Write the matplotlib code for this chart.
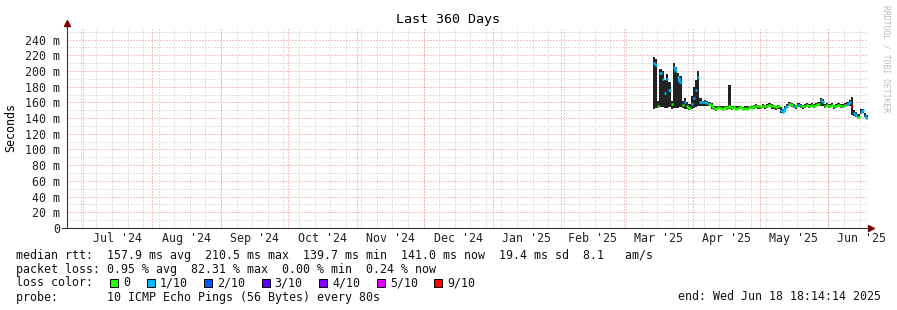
import matplotlib
matplotlib.use("Agg")
import matplotlib.pyplot as plt
import matplotlib.dates as mdates
from matplotlib.patches import Rectangle
import pandas as pd

# --- data (ms), one value per day starting 2025-03-14 ---
med = [210, 208, 156, 198, 190, 172, 190, 176, 158, 205, 200, 192, 186, 157, 160, 155, 153, 158, 166, 176,
       192, 160, 160, 161, 159, 158, 155, 153, 152, 154, 153, 152, 154, 153, 155, 153, 154, 152, 153, 154,
       152, 153, 152, 154, 153, 155, 156, 155, 154, 156, 155, 156, 157, 156, 155, 154, 155, 150, 148, 153,
       156, 158, 157, 156, 155, 157, 156, 155, 156, 157, 156, 157, 156, 157, 158, 163, 160, 156, 157, 156,
       157, 155, 156, 157, 156, 156, 157, 158, 161, 155, 146, 144, 142, 148, 150, 143, 140]
lo = [152, 153, 153, 154, 154, 153, 153, 154, 152, 153, 153, 153, 154, 153, 152, 151, 150, 152, 153, 154,
      155, 155, 156, 156, 155, 155, 152, 150, 149, 151, 151, 150, 151, 150, 151, 150, 151, 150, 151, 151,
      150, 150, 150, 151, 151, 152, 153, 152, 151, 153, 152, 153, 154, 152, 151, 150, 151, 147, 146, 150,
      153, 155, 154, 153, 152, 154, 153, 152, 153, 154, 153, 154, 153, 154, 155, 156, 155, 153, 154, 153,
      154, 152, 153, 154, 153, 153, 154, 155, 156, 144, 143, 141, 140, 145, 146, 141, 139]
hi = [218, 215, 162, 203, 200, 188, 196, 186, 162, 210, 205, 198, 193, 162, 166, 160, 158, 168, 180, 188,
      200, 166, 162, 163, 162, 161, 159, 156, 156, 156, 155, 155, 156, 155, 182, 156, 156, 155, 156, 156,
      154, 155, 155, 156, 155, 157, 158, 157, 156, 158, 157, 158, 159, 158, 157, 156, 157, 154, 152, 156,
      158, 160, 159, 158, 157, 159, 158, 157, 158, 159, 158, 159, 158, 159, 160, 166, 164, 158, 159, 158,
      159, 157, 158, 159, 158, 158, 159, 160, 163, 167, 150, 148, 145, 151, 152, 147, 144]
loss = [1, 1, 0, 1, 1, 1, 1, 1, 0, 1, 1, 1, 1, 0, 1, 0, 0, 1, 1, 1,
        1, 1, 1, 1, 1, 0, 0, 0, 0, 0, 0, 0, 0, 0, 0, 0, 0, 0, 0, 0,
        0, 0, 0, 0, 0, 0, 0, 0, 0, 0, 0, 0, 0, 0, 0, 0, 0, 1, 1, 1,
        1, 0, 0, 1, 0, 1, 0, 0, 0, 0, 0, 0, 0, 0, 0, 1, 1, 0, 0, 0,
        0, 0, 0, 0, 0, 0, 0, 1, 1, 9, 1, 1, 0, 1, 1, 1, 1]

loss_labels = ["0", "1/10", "2/10", "3/10", "4/10", "5/10", "9/10"]
loss_colors = ["#26ff00", "#00b8ff", "#0059ff", "#5e00ff", "#7e00ff", "#dd00ff", "#ff0000"]
loss_map = {0: "#26ff00", 1: "#00b8ff", 2: "#0059ff", 3: "#5e00ff", 4: "#7e00ff", 5: "#dd00ff", 9: "#ff0000"}

start = pd.Timestamp("2024-06-23 18:14:14")
end = pd.Timestamp("2025-06-18 18:14:14")
days = pd.date_range("2025-03-14", periods=len(med), freq="D")

W, H = 897, 310
fig = plt.figure(figsize=(W / 100, H / 100), dpi=100)
fig.patch.set_facecolor("white")
ax = fig.add_axes([67 / W, (H - 228) / H, (868 - 67) / W, (228 - 27) / H])

mono = "DejaVu Sans Mono"
fs = 8.4
dots = (0, (1, 2))

# grid
ax.set_ylim(0, 256)
ax.set_xlim(start, end)
ax.set_yticks(range(0, 241, 20))
ax.set_yticks(range(0, 256, 10), minor=True)
ax.set_yticklabels(["0"] + ["%d m" % v for v in range(20, 241, 20)], fontfamily=mono, fontsize=fs, color="#222")
ax.grid(which="minor", axis="y", color="#c4c4c4", lw=0.72, ls=dots)
ax.grid(which="major", axis="y", color="#f08a8a", lw=0.72, ls=dots)

months = pd.date_range("2024-07-01", "2025-07-01", freq="MS")
mids = [months[k] + (months[k + 1] - months[k]) / 2 for k in range(len(months) - 1)]
ax.set_xticks(mids)
ax.set_xticklabels([m.strftime("%b '%y") for m in mids], fontfamily=mono, fontsize=fs, color="#222")
ax.xaxis.set_minor_locator(mdates.WeekdayLocator(byweekday=mdates.SU))
ax.grid(which="minor", axis="x", color="#c4c4c4", lw=0.72, ls=dots)
for m in months[:-1]:
    ax.axvline(m, color="#f08a8a", lw=0.72, ls=dots, zorder=1)
ax.tick_params(which="both", length=0)
ax.tick_params(axis="y", pad=5)
ax.tick_params(axis="x", pad=3)
ax.set_axisbelow(True)

for s in ["top", "right"]:
    ax.spines[s].set_visible(False)
for s in ["left", "bottom"]:
    ax.spines[s].set_color("#333333")
    ax.spines[s].set_linewidth(0.8)
ax.plot([-0.006, 0], [0, 0], transform=ax.transAxes, color="#333333", lw=0.8, clip_on=False)
ax.plot([0], [1.02], marker="^", ms=4, color="#800000", transform=ax.transAxes, clip_on=False)
ax.plot([1.004], [0], marker=">", ms=4, color="#800000", transform=ax.transAxes, clip_on=False)

# smoke
ax.bar(days, [h - l for h, l in zip(hi, lo)], bottom=lo, width=1.0, align="edge",
       color="#222222", linewidth=0, zorder=3)

# median line coloured by loss (short steps joined, big jumps left to the smoke)
for i in range(len(med)):
    c = loss_map[loss[i]]
    ax.hlines(med[i], days[i], days[i] + pd.Timedelta(days=1), colors=c, lw=1.8, zorder=4)
    if i > 0 and loss[i] == loss[i - 1] and abs(med[i] - med[i - 1]) <= 6:
        ax.vlines(days[i], med[i - 1], med[i], colors=c, lw=1.8, zorder=4)

ax.set_ylabel("Seconds", fontfamily=mono, fontsize=fs)
ax.yaxis.set_label_coords(-50 / (868 - 67), 0.5)

fig.text(448 / W, 1 - 19 / H, "Last 360 Days", ha="center", va="center", fontfamily=mono, fontsize=9.6)
fig.text(886 / W, 1 - 5 / H, "RRDTOOL / TOBI OETIKER", ha="center", va="top", rotation=-90,
         fontfamily=mono, fontsize=5.8, color="#bbbbbb")

def ftxt(x, y, s, **kw):
    fig.text(x / W, 1 - y / H, s, fontfamily=mono, fontsize=fs, va="baseline", color="#111", **kw)

ftxt(16, 258.5, "median rtt:  157.9 ms avg  210.5 ms max  139.7 ms min  141.0 ms now  19.4 ms sd  8.1   am/s")
ftxt(16, 272.5, "packet loss: 0.95 % avg  82.31 % max  0.00 % min  0.24 % now")
ftxt(16, 286.5, "loss color:")
x = 123
for lab, col in zip(loss_labels, loss_colors):
    fig.add_artist(Rectangle(((x - 13) / W, 1 - 286.5 / H), 8 / W, 8 / H, transform=fig.transFigure,
                             facecolor=col, edgecolor="black", lw=0.7))
    ftxt(x, 286.5, lab)
    x += len(lab) * 7.02 + 29.5
ftxt(16, 300.5, "probe:       10 ICMP Echo Pings (56 Bytes) every 80s")
ftxt(881, 300.5, "end: Wed Jun 18 18:14:14 2025", ha="right")

fig.savefig("out.png", dpi=100)
